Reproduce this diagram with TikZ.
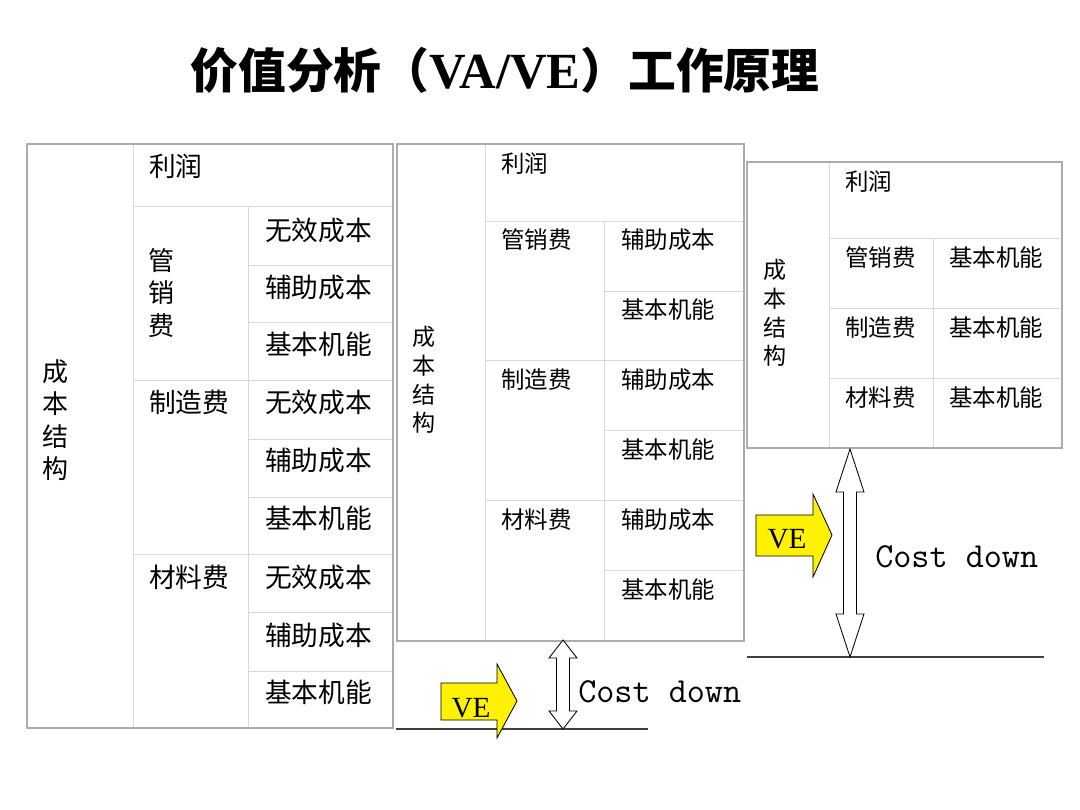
\documentclass[tikz,border=0pt]{standalone}
\usepackage{fontspec}
\newfontfamily\cjk{Noto Sans CJK SC}
\newfontfamily\tnr{Liberation Serif}
\usepackage{tikz}
\usetikzlibrary{positioning, calc}

\tikzset{
    cell/.style={draw=gray!30, line width=0.7pt},
    frame/.style={draw=gray!65, line width=1.3pt},
    base/.style={draw=black!75, line width=1pt},
    title/.style={font=\cjk\bfseries\fontsize{34}{34}\selectfont, inner sep=0pt},
    bigtxt/.style={font=\cjk\fontsize{19}{19}\selectfont, anchor=west, inner sep=0pt},
    smtxt/.style={font=\cjk\fontsize{16.7}{16.7}\selectfont, anchor=west, inner sep=0pt},
    vbig/.style={font=\cjk\fontsize{18.5}{23}\selectfont, align=center, inner sep=0pt},
    vsm/.style={font=\cjk\fontsize{16.4}{20.3}\selectfont, align=center, inner sep=0pt},
    vearrow/.style={fill=yellow, draw=black, line width=0.6pt},
    dblarrow/.style={fill=white, draw=black, line width=0.6pt},
    vetxt/.style={font=\tnr\fontsize{20.8}{20.8}\selectfont, inner sep=0pt},
    costtxt/.style={font=\ttfamily\fontsize{25}{25}\selectfont, anchor=west, inner sep=0pt}
}

% double block arrow: centre x, top y, bottom y, head length
\newcommand{\costarrow}[4]{%
    \draw[dblarrow] (#1,#2) -- (#1+14,#2+#4) -- (#1+6.5,#2+#4) -- (#1+6.5,#3-#4)
        -- (#1+14,#3-#4) -- (#1,#3) -- (#1-14,#3-#4) -- (#1-6.5,#3-#4)
        -- (#1-6.5,#2+#4) -- (#1-14,#2+#4) -- cycle;
}

\begin{document}
\begin{tikzpicture}[x=0.25mm, y=-0.25mm]
    \useasboundingbox (0,0) rectangle (1080,810);
    % Title
    \node[title] (ttl) at (505,70) {价值分析（{\tnr\fontsize{36}{36}\selectfont VA/VE}）工作原理};

    % Table 1: cost structure before VA/VE
    \draw[cell] (133,144) -- (133,728);
    \draw[cell] (248,206) -- (248,728);
    \draw[cell] (133,206) -- (393,206);
    \foreach \y in {380,554} \draw[cell] (133,\y) -- (393,\y);
    \foreach \y in {265,322,439,497,612,671} \draw[cell] (248,\y) -- (393,\y);
    \draw[frame] (27,144) rectangle (393,728);
    \node[vbig] (cs1) at (56,420) {成\\本\\结\\构};
    \node[bigtxt] (pr1) at (149,166) {利润};
    \node[vbig] (gx1) at (162,293) {管\\销\\费};
    \node[bigtxt] (zz1) at (149,402) {制造费};
    \node[bigtxt] (cl1) at (149,577) {材料费};
    \foreach \y/\t [count=\i] in {230/无效成本, 287/辅助成本, 344/基本机能,
        402/无效成本, 460/辅助成本, 518/基本机能,
        577/无效成本, 635/辅助成本, 692/基本机能}
        \node[bigtxt] (c1\i) at (265,\y) {\t};

    % Table 2: after removing useless cost
    \draw[cell] (485,144) -- (485,641);
    \draw[cell] (604,221) -- (604,641);
    \foreach \y in {221,360,500} \draw[cell] (485,\y) -- (744,\y);
    \foreach \y in {291,430,570} \draw[cell] (604,\y) -- (744,\y);
    \draw[frame] (397,144) rectangle (744,641);
    \node[vsm] (cs2) at (424,380) {成\\本\\结\\构};
    \node[smtxt] (pr2) at (501,164) {利润};
    \node[smtxt] (gx2) at (501,240) {管销费};
    \node[smtxt] (zz2) at (501,380) {制造费};
    \node[smtxt] (cl2) at (501,520) {材料费};
    \foreach \y/\t [count=\i] in {240/辅助成本, 310/基本机能, 380/辅助成本,
        450/基本机能, 520/辅助成本, 590/基本机能}
        \node[smtxt] (c2\i) at (621,\y) {\t};

    % Table 3: basic functions only
    \draw[cell] (829,162) -- (829,448);
    \draw[cell] (933,238) -- (933,448);
    \foreach \y in {238,308,378} \draw[cell] (829,\y) -- (1062,\y);
    \draw[frame] (747,162) rectangle (1062,448);
    \node[vsm] (cs3) at (775,313) {成\\本\\结\\构};
    \node[smtxt] (pr3) at (845,182) {利润};
    \node[smtxt] (gx3) at (845,258) {管销费};
    \node[smtxt] (zz3) at (845,328) {制造费};
    \node[smtxt] (cl3) at (845,398) {材料费};
    \foreach \y [count=\i] in {258,328,398}
        \node[smtxt] (c3\i) at (949,\y) {基本机能};

    % Base lines
    \draw[base] (396,729) -- (648,729);
    \draw[base] (747,657) -- (1044,657);

    % Cost down arrows
    \costarrow{563}{640}{729}{18}
    \costarrow{850}{449}{657}{43}
    \node[costtxt] (cd1) at (578,692) {Cost down};
    \node[costtxt] (cd2) at (875,557) {Cost down};

    % VE arrows
    \draw[vearrow] (441,683) -- (497,683) -- (497,664) -- (517,701) -- (497,738)
        -- (497,720) -- (441,720) -- cycle;
    \node[vetxt] (ve1) at (471,708) {VE};
    \draw[vearrow] (756,515) -- (813,515) -- (813,494) -- (832,535) -- (813,577)
        -- (813,556) -- (756,556) -- cycle;
    \node[vetxt] (ve2) at (787,539) {VE};
\end{tikzpicture}
\end{document}
